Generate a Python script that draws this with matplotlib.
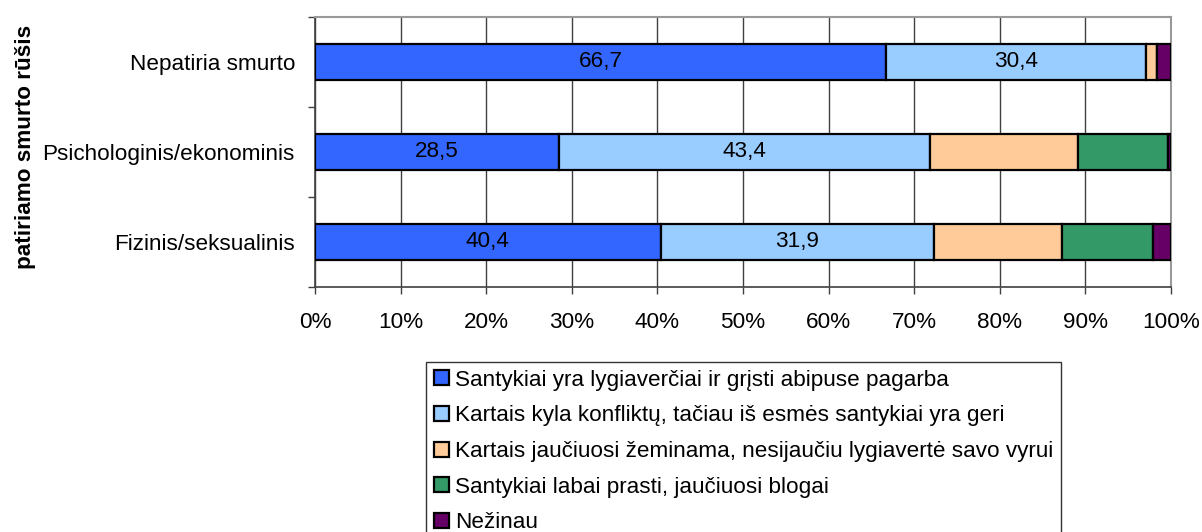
import matplotlib
matplotlib.use("Agg")
import matplotlib.pyplot as plt
import numpy as np

plt.rcParams['font.family'] = ['Liberation Sans', 'DejaVu Sans']

categories = ["Fizinis/seksualinis", "Psichologinis/ekonominis", "Nepatiria smurto"]
series_names = [
    "Santykiai yra lygiaverčiai ir grįsti abipuse pagarba",
    "Kartais kyla konfliktų, tačiau iš esmės santykiai yra geri",
    "Kartais jaučiuosi žeminama, nesijaučiu lygiavertė savo vyrui",
    "Santykiai labai prasti, jaučiuosi blogai",
    "Nežinau",
]
lygiaverciai = [40.4, 28.5, 66.7]
konfliktu = [31.9, 43.4, 30.4]
zeminama = [15.0, 17.2, 1.3]
prasti = [10.6, 10.5, 0.0]
nezinau = [2.1, 0.4, 1.6]
series = [lygiaverciai, konfliktu, zeminama, prasti, nezinau]
labelled = [True, True, False, False, False]
colors = ["#3366FF", "#99CCFF", "#FFCC99", "#339966", "#660066"]
x_ticks = [0, 10, 20, 30, 40, 50, 60, 70, 80, 90, 100]
y_title = "patiriamo smurto rūšis"

FS = 16.2
fig = plt.figure(figsize=(12.02, 5.32), dpi=100)
ax = fig.add_axes([315/1202, 1-287/532, (1171-315)/1202, (287-17)/532])

y = np.arange(len(categories))
left = np.zeros(len(categories))
handles = []
for vals, name, col, lab in zip(series, series_names, colors, labelled):
    vals = np.array(vals)
    bars = ax.barh(y, vals, left=left, height=0.4, color=col, edgecolor='black',
                   linewidth=1.6, label=name, zorder=3)
    handles.append(bars)
    if lab:
        for yi, l, v in zip(y, left, vals):
            ax.text(l + v/2, yi, f"{v:.1f}".replace('.', ','), ha='center', va='center',
                    fontsize=FS, color='black', zorder=4)
    left = left + vals

ax.set_xlim(0, 100)
ax.set_ylim(-0.5, 2.5)
ax.set_xticks(x_ticks)
ax.set_xticklabels([f"{t}%" for t in x_ticks], fontsize=FS)
ax.xaxis.grid(True, color='#404040', linewidth=1.0, zorder=0)
ax.set_axisbelow(True)

ax.set_yticks([-0.5, 0.5, 1.5, 2.5])
ax.set_yticklabels([])
ax.set_yticks(y, minor=True)
ax.set_yticklabels(categories, minor=True, fontsize=FS)
ax.tick_params(axis='y', which='minor', length=0, pad=14.4)
ax.tick_params(axis='y', which='major', length=5, width=1, color='#404040', direction='out')
ax.tick_params(axis='x', length=5, width=1, color='#404040', direction='out', pad=13)

for s in ['left', 'bottom']:
    ax.spines[s].set_color('#404040')
    ax.spines[s].set_linewidth(1.2)
for s in ['top', 'right']:
    ax.spines[s].set_color('#999999')
    ax.spines[s].set_linewidth(1.5)

fig.text(26/1202, 1-147/532, y_title, rotation=90, ha='center', va='center',
         fontsize=FS, fontweight='bold')

leg = fig.legend(handles=handles, labels=series_names, loc='upper left',
                 bbox_to_anchor=(426/1202, 1-362/532), fontsize=FS, frameon=True,
                 fancybox=False, borderaxespad=0, handlelength=0.65, handleheight=0.65,
                 handletextpad=0.3, labelspacing=0.65, borderpad=0.35)
leg.get_frame().set_edgecolor('black')
leg.get_frame().set_linewidth(1.0)

fig.savefig("out.png", dpi=100)
